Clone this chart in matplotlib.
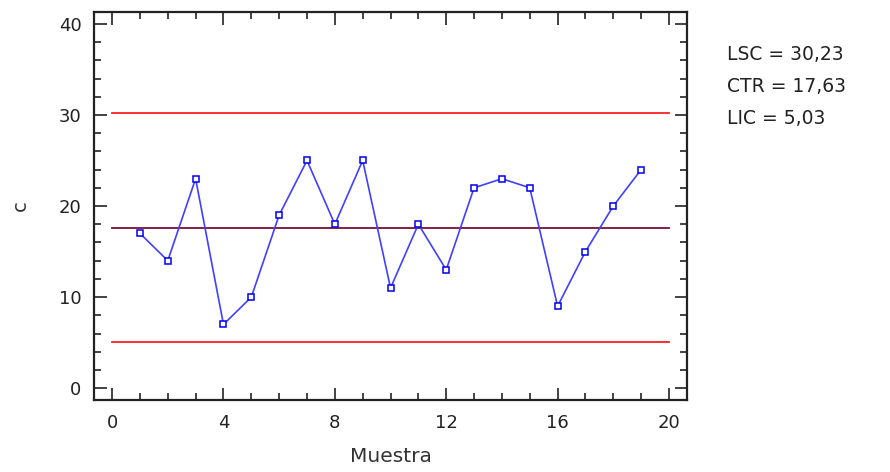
import matplotlib
matplotlib.use("Agg")
import matplotlib.pyplot as plt
from matplotlib.ticker import MultipleLocator

muestra = list(range(1, 20))
c_vals = [17, 14, 23, 7, 10, 19, 25, 18, 25, 11, 18, 13, 22, 23, 22, 9, 15, 20, 24]
lsc, ctr, lic = 30.23, 17.63, 5.03
stats_text = ["LSC = 30,23", "CTR = 17,63", "LIC = 5,03"]

plt.rcParams['font.family'] = ['DejaVu Sans']

fig = plt.figure(figsize=(8.9, 4.72), dpi=100)
ax = fig.add_axes([0.1056, 0.1525, 0.6664, 0.822])

ax.plot([0, 20], [lsc, lsc], color='#ff2020', lw=1.3)
ax.plot([0, 20], [lic, lic], color='#ff2020', lw=1.3)
ax.plot([0, 20], [ctr, ctr], color='#7a0f3a', lw=1.3)
ax.plot(muestra, c_vals, color='#4040ff', lw=1.2, marker='s', ms=4,
        mfc='white', mec='#0000ee', mew=1.1)

ax.set_xlim(-0.65, 20.65)
ax.set_ylim(-1.3, 41.3)
ax.xaxis.set_major_locator(MultipleLocator(4))
ax.xaxis.set_minor_locator(MultipleLocator(1))
ax.yaxis.set_major_locator(MultipleLocator(10))
ax.yaxis.set_minor_locator(MultipleLocator(2))
ax.tick_params(which='both', direction='in', top=True, right=True, color='#222222', width=1.2)
ax.tick_params(which='major', length=9, labelsize=13, labelcolor='#222222')
ax.tick_params(axis='x', which='major', pad=10)
ax.tick_params(axis='y', which='major', pad=9)
ax.tick_params(which='minor', length=5)
for s in ax.spines.values():
    s.set_linewidth(1.6)
    s.set_color('#222222')

ax.set_xlabel('Muestra', fontsize=14.5, color='#333333', labelpad=11)
ax.set_ylabel('c', fontsize=14, color='#333333', labelpad=21)

for i, t in enumerate(stats_text):
    fig.text(727/890, 1 - (55 + i*31.5)/472, t, fontsize=13.5, color='#222222',
             va='center', ha='left')

fig.savefig('out.png', dpi=100)
